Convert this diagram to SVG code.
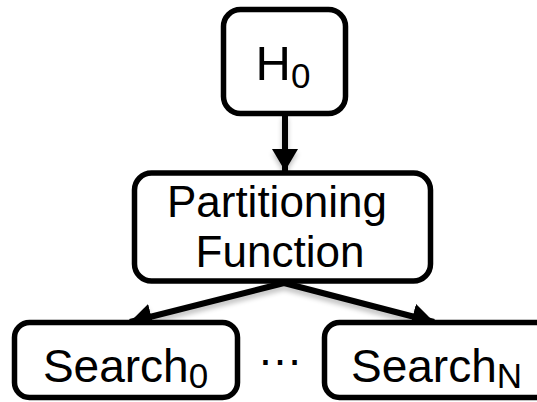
<svg xmlns="http://www.w3.org/2000/svg" width="537" height="402" viewBox="0 0 537 402">
  <style>
    .box { fill: #ffffff; stroke: #000000; stroke-width: 5.5; }
    .lbl { font-family: "Liberation Sans", Arial, Helvetica, sans-serif; fill: #000000; text-anchor: middle; }
    .sub { font-size: 35px; }
    .edge { stroke: #000000; stroke-width: 6; fill: none; marker-end: url(#head); }
  </style>
  <defs>
    <marker id="head" viewBox="0 0 22 26" refX="22" refY="13" markerWidth="22" markerHeight="26" markerUnits="userSpaceOnUse" orient="auto">
      <path d="M0,0 L22,13 L0,26 Z" fill="#000000"/>
    </marker>
    <filter id="soft" x="-20%" y="-20%" width="140%" height="160%">
      <feGaussianBlur in="SourceAlpha" stdDeviation="2.5"/>
      <feOffset dx="0" dy="4" result="blur"/>
      <feComponentTransfer><feFuncA type="linear" slope="0.25"/></feComponentTransfer>
      <feMerge><feMergeNode/><feMergeNode in="SourceGraphic"/></feMerge>
    </filter>
  </defs>

  <!-- connectors -->
  <g id="connectors" filter="url(#soft)">
    <line class="edge" x1="285" y1="114" x2="285" y2="171"/>
    <line class="edge" x1="284" y1="283" x2="130" y2="322"/>
    <line class="edge" x1="284" y1="283" x2="434" y2="322"/>
  </g>

  <!-- start node -->
  <g id="h0">
    <rect class="box" x="223.5" y="9.5" width="122" height="104" rx="17"/>
    <text class="lbl" x="283" y="80" font-size="49">H<tspan class="sub" dy="8">0</tspan></text>
  </g>

  <!-- partitioning node -->
  <g id="partition">
    <rect class="box" x="134.5" y="173" width="296" height="108" rx="17"/>
    <text class="lbl" x="277" y="217" font-size="44">Partitioning</text>
    <text class="lbl" x="280" y="267" font-size="44">Function</text>
  </g>

  <!-- first search node -->
  <g id="search0">
    <rect class="box" x="14.5" y="322.5" width="223" height="75" rx="15"/>
    <text class="lbl" x="125.5" y="382" font-size="46">Search<tspan class="sub" dy="6">0</tspan></text>
  </g>

  <!-- ellipsis between search nodes -->
  <g id="ellipsis">
    <text class="lbl" x="280" y="365" font-size="46">…</text>
  </g>

  <!-- last search node -->
  <g id="searchN">
    <rect class="box" x="324.5" y="322.5" width="230" height="75" rx="15"/>
    <text class="lbl" x="436.5" y="382" font-size="46">Search<tspan class="sub" dy="6">N</tspan></text>
  </g>
</svg>
